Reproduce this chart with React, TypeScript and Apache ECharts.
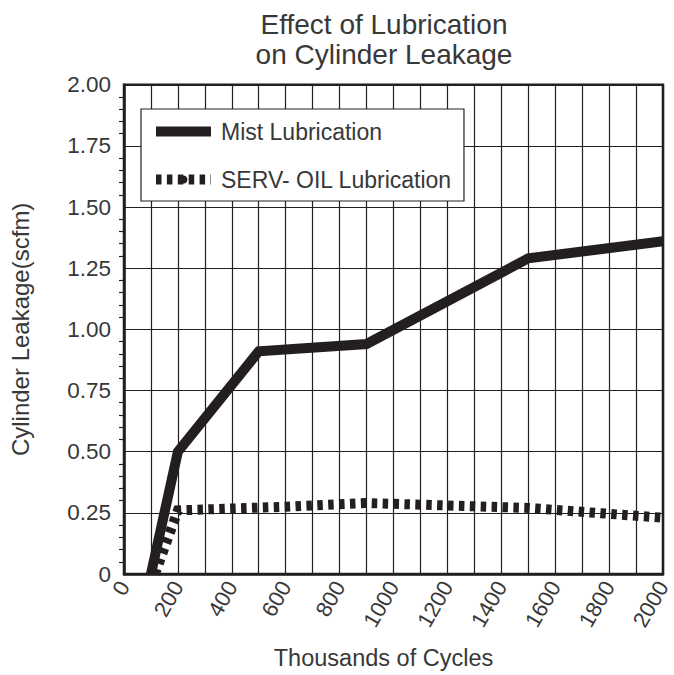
import React, { useEffect, useRef } from "react";
import * as echarts from "echarts";

const titleText = "Effect of Lubrication\non Cylinder Leakage";
const xAxisName = "Thousands of Cycles";
const yAxisName = "Cylinder Leakage(scfm)";
const seriesNames = ["Mist Lubrication", "SERV- OIL Lubrication"];

const mistX = [100, 200, 500, 900, 1500, 2000];
const mistY = [0, 0.5, 0.91, 0.94, 1.29, 1.36];

const servX = [115, 200, 600, 900, 1500, 2000];
const servY = [0, 0.26, 0.275, 0.29, 0.27, 0.23];

const xMin = 0;
const xMax = 2000;
const yMin = 0;
const yMax = 2;

const INK = "#231f20";
const TEXT = "#383838";
const FONT = "'Liberation Sans', Arial, sans-serif";

export default function App() {
  const ref = useRef<HTMLDivElement>(null);
  useEffect(() => {
    if (!ref.current) return;
    const chart = echarts.init(ref.current, undefined, { renderer: "svg" });
    const mistData = mistX.map((x, i) => [x, mistY[i]]);
    const servData = servX.map((x, i) => [x, servY[i]]);
    chart.setOption({
      animation: false,
      backgroundColor: "#ffffff",
      textStyle: { fontFamily: FONT },
      title: {
        text: titleText,
        left: 379,
        top: 4,
        textAlign: "center",
        textStyle: {
          fontFamily: FONT,
          fontSize: 28,
          fontWeight: "normal",
          color: TEXT,
          lineHeight: 30,
        },
      },
      legend: {
        orient: "vertical",
        left: 141,
        top: 109,
        padding: [11, 12, 10, 10],
        itemGap: 25,
        itemWidth: 55,
        itemHeight: 10,
        backgroundColor: "#ffffff",
        borderColor: INK,
        borderWidth: 1.2,
        borderRadius: 0,
        lineStyle: { width: 10 },
        textStyle: {
          fontFamily: FONT,
          fontSize: 23,
          color: TEXT,
          padding: [0, 0, 0, 5],
        },
        data: seriesNames,
      },
      grid: {
        left: 123.3,
        right: 8,
        top: 84.7,
        bottom: 98.3,
        show: true,
        borderColor: INK,
        borderWidth: 2.5,
        backgroundColor: "transparent",
      },
      xAxis: {
        type: "value",
        min: xMin,
        max: xMax,
        interval: 100,
        name: xAxisName,
        nameLocation: "middle",
        nameGap: 72,
        nameTextStyle: {
          fontFamily: FONT,
          fontSize: 23.5,
          color: TEXT,
          padding: [0, 20, 0, 0],
        },
        axisLine: { show: true, lineStyle: { color: INK, width: 2.5 } },
        axisTick: { show: false },
        axisLabel: {
          rotate: 60,
          margin: 9,
          fontFamily: FONT,
          fontSize: 22,
          color: TEXT,
          formatter: (v: number) => (v % 200 === 0 ? String(v) : ""),
        },
        splitLine: { show: true, lineStyle: { color: INK, width: 1.2 } },
      },
      yAxis: {
        type: "value",
        min: yMin,
        max: yMax,
        interval: 0.25,
        name: yAxisName,
        nameLocation: "middle",
        nameGap: 92,
        nameTextStyle: {
          fontFamily: FONT,
          fontSize: 24,
          color: TEXT,
        },
        axisLine: { show: true, lineStyle: { color: INK, width: 2.5 } },
        axisTick: { show: false },
        minorTick: {
          show: true,
          splitNumber: 5,
          length: 5,
          lineStyle: { color: INK, width: 1.2 },
        },
        axisLabel: {
          margin: 13,
          fontFamily: FONT,
          fontSize: 22.5,
          color: TEXT,
          formatter: (v: number) => (v === 0 ? "0" : v.toFixed(2)),
        },
        splitLine: { show: true, lineStyle: { color: INK, width: 1.2 } },
      },
      series: [
        {
          name: seriesNames[0],
          type: "line",
          data: mistData,
          symbol: "none",
          color: INK,
          lineStyle: { color: INK, width: 10, cap: "butt", join: "miter" },
          z: 3,
        },
        {
          name: seriesNames[1],
          type: "line",
          data: servData,
          symbol: "none",
          color: INK,
          lineStyle: {
            color: INK,
            width: 10,
            type: [5.5, 5.4],
            cap: "butt",
            join: "miter",
          },
          z: 3,
        },
      ],
    });
    return () => chart.dispose();
  }, []);
  return (
    <div
      ref={ref}
      style={{ position: "absolute", left: 0, top: 0, width: 674, height: 675 }}
    />
  );
}
